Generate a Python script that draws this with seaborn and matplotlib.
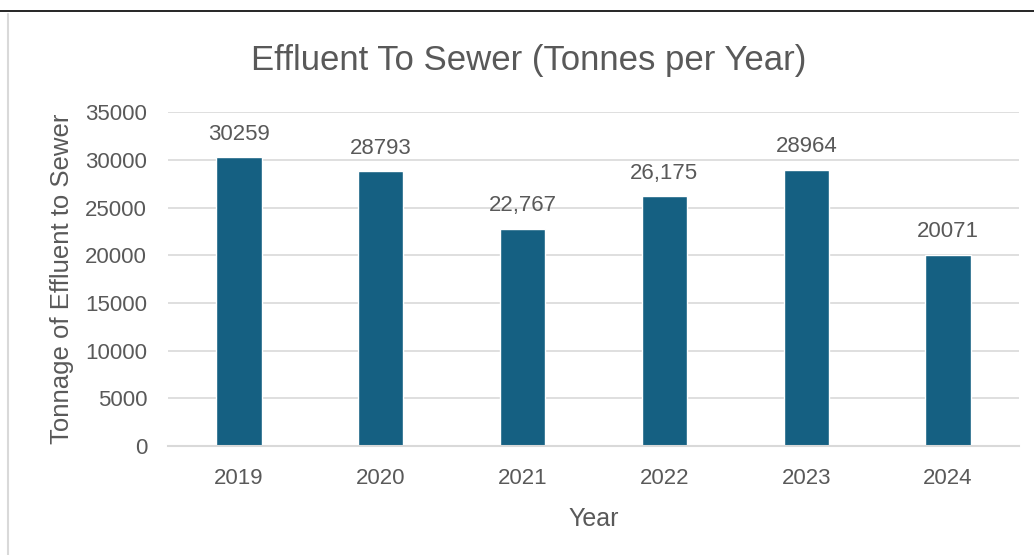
import matplotlib
matplotlib.use("Agg")
import matplotlib.pyplot as plt
import seaborn as sns
import pandas as pd
from matplotlib.lines import Line2D

years = ["2019", "2020", "2021", "2022", "2023", "2024"]
tonnes = [30259, 28793, 22767, 26175, 28964, 20071]
bar_labels = ["30259", "28793", "22,767", "26,175", "28964", "20071"]

sns.set_style("white")
plt.rcParams['font.family'] = ['Liberation Sans', 'DejaVu Sans']

text_grey = '#595959'
bar_blue = '#156082'

df = pd.DataFrame({'Year': years, 'Tonnes': tonnes})

fig = plt.figure(figsize=(10.34, 5.55), dpi=100)
ax = fig.add_axes([0.1625, 0.1964, 0.823, 0.6016])

sns.barplot(data=df, x='Year', y='Tonnes', color=bar_blue, width=0.32,
            saturation=1, ax=ax)

ax.set_ylim(0, 35000)
ax.set_yticks(range(0, 35001, 5000))
ax.yaxis.grid(True, color='#d9d9d9', linewidth=1.2)
ax.set_axisbelow(True)
for s in ['top', 'right', 'left']:
    ax.spines[s].set_visible(False)
ax.spines['bottom'].set_color('#d9d9d9')
ax.spines['bottom'].set_linewidth(1.5)
ax.tick_params(axis='both', length=0, labelsize=16, colors=text_grey)
ax.tick_params(axis='x', pad=16)
ax.tick_params(axis='y', pad=15)

ax.bar_label(ax.containers[0], labels=bar_labels, padding=9,
             fontsize=16, color=text_grey)

ax.set_xlabel('Year', fontsize=18, color=text_grey, labelpad=13)
ax.set_ylabel('Tonnage of Effluent to Sewer', fontsize=18.5, color=text_grey,
              labelpad=8)
fig.suptitle('Effluent To Sewer (Tonnes per Year)', fontsize=25,
             color=text_grey, x=0.511, y=0.92)

# frame lines of the screenshot
fig.add_artist(Line2D([0, 1], [1 - 11 / 555, 1 - 11 / 555], color='black',
                      linewidth=1.2, transform=fig.transFigure))
fig.add_artist(Line2D([8 / 1034, 8 / 1034], [0, 1 - 14 / 555], color='#d9d9d9',
                      linewidth=1.5, transform=fig.transFigure))

fig.savefig('out.png', dpi=100)
